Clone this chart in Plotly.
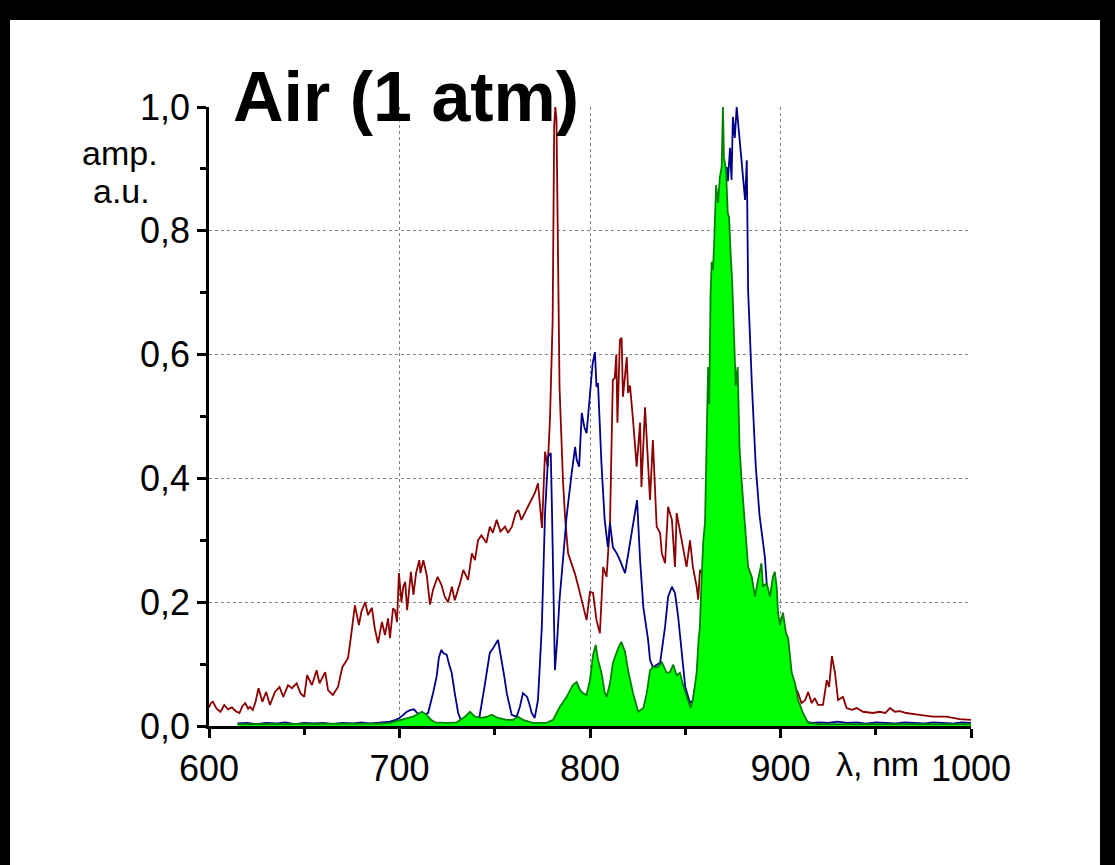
import plotly.graph_objects as go

# ---- spectra (wavelength in nm, normalised amplitude) ----
red_wl = [600, 601, 602, 604, 606, 608, 610, 612, 614, 616, 617.5, 619, 620.5, 621.5, 623, 624.5,
          626, 627, 628, 630, 632, 634.6, 637, 639, 641.5, 643.5, 646, 648, 650, 651.5, 654, 656.5,
          658, 661, 662.5, 665, 667.7, 670, 673, 674.5, 676.6, 678.7, 680, 682, 683.5, 685.5, 687,
          688.7, 690.8, 692.4, 694, 695, 696.6, 697.6, 698.7, 699.7, 701, 702, 703, 704, 706, 707.3,
          708.7, 710.4, 711, 712.5, 714.3, 716, 717.6, 720, 722, 723.8, 725.5, 727.5, 729, 731.8,
          733.5, 736, 738, 739.6, 741.2, 743, 745.6, 747.4, 749, 751, 753, 755.4, 757, 759, 761,
          762.4, 764, 767.5, 771, 772.7, 773.8, 774.8, 776.4, 777.8, 779, 780.4, 781.2, 781.8, 782.4,
          783.2, 784, 785.8, 787, 788.5, 790.4, 792, 793.9, 795.7, 797.4, 798.2, 800, 801.6, 803.4,
          805.2, 806.9, 808.7, 810.5, 811.4, 812, 813, 813.8, 814.4, 815.2, 815.7, 816.6, 817.3,
          818.2, 819.3, 820, 821, 822.6, 824.5, 826.3, 827, 828.9, 830.5, 831.5, 833, 835, 836.8,
          837.7, 839.4, 841, 843, 844.6, 845.5, 847.2, 848.9, 850.7, 852.5, 854, 856, 856.8, 857.7,
          860, 865, 870, 875, 880, 885, 890, 895, 900, 904, 907.6, 909, 911, 913, 914.5, 916.4, 918,
          919.7, 922.3, 924.3, 925.5, 927, 928.6, 930.2, 932.8, 934.7, 937.4, 940, 943.3, 948.6, 952,
          955, 957.5, 960, 962.7, 966, 973, 980, 987, 994, 1000]
red_amp = [0.030, 0.037, 0.039, 0.028, 0.023, 0.034, 0.027, 0.030, 0.024, 0.021, 0.032, 0.037, 0.028,
           0.031, 0.026, 0.040, 0.061, 0.048, 0.039, 0.055, 0.034, 0.055, 0.063, 0.047, 0.066, 0.061,
           0.069, 0.053, 0.047, 0.082, 0.066, 0.090, 0.069, 0.087, 0.058, 0.050, 0.063, 0.095, 0.110,
           0.144, 0.195, 0.163, 0.185, 0.200, 0.179, 0.191, 0.158, 0.134, 0.168, 0.147, 0.174, 0.142,
           0.190, 0.187, 0.168, 0.247, 0.200, 0.225, 0.233, 0.187, 0.249, 0.212, 0.247, 0.268, 0.247,
           0.268, 0.244, 0.196, 0.220, 0.241, 0.228, 0.209, 0.200, 0.225, 0.203, 0.231, 0.252, 0.236,
           0.279, 0.268, 0.300, 0.308, 0.296, 0.322, 0.312, 0.333, 0.314, 0.322, 0.312, 0.322, 0.344,
           0.349, 0.333, 0.355, 0.376, 0.392, 0.360, 0.320, 0.443, 0.419, 0.497, 0.656, 0.970, 1.000,
           0.980, 0.750, 0.548, 0.397, 0.333, 0.279, 0.263, 0.247, 0.225, 0.204, 0.183, 0.171, 0.217,
           0.215, 0.171, 0.150, 0.257, 0.241, 0.328, 0.441, 0.559, 0.562, 0.600, 0.490, 0.560, 0.624,
           0.627, 0.532, 0.560, 0.596, 0.538, 0.550, 0.494, 0.419, 0.490, 0.386, 0.515, 0.419, 0.365,
           0.462, 0.322, 0.312, 0.279, 0.263, 0.354, 0.333, 0.257, 0.344, 0.317, 0.284, 0.257, 0.300,
           0.257, 0.225, 0.204, 0.252, 0.240, 0.220, 0.210, 0.200, 0.190, 0.170, 0.150, 0.120, 0.100,
           0.080, 0.063, 0.055, 0.037, 0.042, 0.055, 0.037, 0.045, 0.034, 0.034, 0.074, 0.063, 0.113,
           0.086, 0.042, 0.047, 0.029, 0.026, 0.029, 0.023, 0.021, 0.023, 0.021, 0.029, 0.023, 0.024,
           0.021, 0.018, 0.015, 0.015, 0.011, 0.010]

blue_wl = [615, 620, 625, 630, 635, 640, 645, 650, 655, 660, 665, 670, 675, 680, 685, 690, 695, 698,
           700, 702, 703.8, 706, 707.6, 709, 710.8, 713, 715, 717.6, 719.5, 720.7, 722, 723, 724.8,
           726, 727.4, 729, 730.8, 732.6, 735, 738, 740, 742, 744.6, 746, 747.4, 749, 750, 751.7,
           752.5, 753.6, 755, 756.3, 757.6, 758.9, 761.5, 763.2, 764.8, 766, 767, 768.2, 769.4, 771,
           772.7, 773.7, 774.7, 775.6, 776.4, 778, 779.4, 780, 781, 781.6, 782.8, 784, 785.8, 787.7,
           790.4, 792.2, 793, 794.3, 795.7, 797, 798.2, 800, 801.4, 802.6, 803.4, 804.2, 806, 807.7,
           809.4, 810.5, 812, 814, 815.7, 818.4, 820, 822, 823.9, 824.7, 826.3, 828, 830.5, 831.5, 833,
           835, 836.8, 839.4, 841, 843, 844.6, 846.3, 848.2, 850, 852.5, 854, 856, 858, 861, 864, 867,
           870, 871.8, 872.4, 873.5, 874.3, 875, 876, 877, 877.7, 878.7, 879.6, 880.4, 881.4, 882.3,
           882.5, 883, 885, 887, 889, 890.8, 891.8, 893, 896, 900, 904, 908, 912, 917, 920, 925, 930,
           935, 940, 945, 950, 955, 960, 965, 970, 975, 980, 985, 990, 995, 1000]
blue_amp = [0.004, 0.005, 0.003, 0.005, 0.004, 0.006, 0.003, 0.005, 0.004, 0.005, 0.003, 0.005, 0.004,
            0.006, 0.004, 0.005, 0.007, 0.010, 0.013, 0.018, 0.023, 0.026, 0.027, 0.022, 0.018, 0.019,
            0.021, 0.053, 0.080, 0.111, 0.123, 0.118, 0.115, 0.100, 0.086, 0.053, 0.021, 0.006, 0.005,
            0.006, 0.010, 0.015, 0.063, 0.095, 0.118, 0.125, 0.131, 0.139, 0.125, 0.107, 0.080, 0.053,
            0.035, 0.018, 0.015, 0.031, 0.053, 0.050, 0.047, 0.035, 0.021, 0.013, 0.042, 0.100, 0.160,
            0.257, 0.344, 0.435, 0.441, 0.354, 0.176, 0.090, 0.140, 0.204, 0.268, 0.338, 0.409, 0.451,
            0.430, 0.419, 0.506, 0.483, 0.473, 0.543, 0.586, 0.604, 0.548, 0.554, 0.425, 0.333, 0.289,
            0.328, 0.289, 0.279, 0.268, 0.247, 0.279, 0.312, 0.354, 0.365, 0.268, 0.192, 0.139, 0.107,
            0.095, 0.098, 0.102, 0.160, 0.209, 0.225, 0.215, 0.176, 0.123, 0.063, 0.037, 0.042, 0.080,
            0.160, 0.350, 0.550, 0.720, 0.850, 0.903, 0.880, 0.934, 0.882, 0.984, 0.950, 1.000, 0.974,
            0.947, 0.909, 0.877, 0.850, 0.914, 0.838, 0.704, 0.550, 0.420, 0.340, 0.300, 0.273, 0.220,
            0.150, 0.090, 0.040, 0.015, 0.007, 0.005, 0.006, 0.005, 0.007, 0.005, 0.006, 0.004, 0.006,
            0.005, 0.004, 0.006, 0.005, 0.004, 0.006, 0.005, 0.004, 0.006, 0.005]

green_wl = [615, 630, 650, 670, 690, 695, 700, 703, 707, 710, 711.8, 714.3, 716.5, 718.6, 724.8, 730,
            732, 734.4, 737, 739.6, 743, 746, 748.4, 751.7, 756.3, 759.6, 762.2, 764.8, 770, 777.2,
            780.6, 784.2, 787.7, 791, 793, 794.8, 796.4, 798.2, 800, 801.6, 803, 804.2, 806, 807.7,
            808.7, 810.5, 812, 814.8, 816.4, 818.4, 820, 822.6, 825.3, 828, 829.8, 831.5, 833, 835.7,
            837.7, 840.3, 842, 843.7, 845.5, 847.2, 848.9, 850.7, 852.8, 854, 856, 857, 857.7, 858.6,
            859.5, 860.4, 861.2, 862, 862.6, 863.3, 863.9, 864.6, 865.4, 866.2, 867.2, 868.2, 869.1,
            869.8, 870.3, 871.4, 872.3, 873, 873.9, 874.6, 875.5, 876.5, 877.5, 878.5, 879.5, 880.5,
            881.3, 882.2, 883, 884.9, 886.6, 888.2, 890, 890.8, 892.7, 894.5, 896, 897, 898, 898.7,
            899.7, 901.3, 902.9, 904, 905.9, 907.6, 909.2, 911.8, 914.5, 920, 940, 960, 980, 1000]
green_amp = [0.003, 0.003, 0.003, 0.003, 0.004, 0.005, 0.009, 0.012, 0.015, 0.020, 0.023, 0.018,
             0.010, 0.006, 0.005, 0.006, 0.010, 0.015, 0.023, 0.015, 0.013, 0.015, 0.018, 0.013,
             0.010, 0.010, 0.015, 0.010, 0.005, 0.005, 0.010, 0.031, 0.047, 0.066, 0.071, 0.058,
             0.053, 0.050, 0.074, 0.115, 0.131, 0.107, 0.086, 0.055, 0.047, 0.069, 0.102, 0.126,
             0.136, 0.120, 0.090, 0.053, 0.023, 0.029, 0.053, 0.090, 0.095, 0.095, 0.103, 0.086,
             0.087, 0.099, 0.082, 0.086, 0.066, 0.047, 0.029, 0.042, 0.086, 0.140, 0.160, 0.241,
             0.300, 0.330, 0.450, 0.580, 0.520, 0.700, 0.750, 0.737, 0.800, 0.874, 0.845, 0.887,
             0.903, 1.000, 0.919, 0.898, 0.829, 0.822, 0.758, 0.720, 0.640, 0.550, 0.580, 0.450,
             0.400, 0.360, 0.330, 0.300, 0.257, 0.241, 0.209, 0.236, 0.263, 0.225, 0.231, 0.209,
             0.241, 0.249, 0.225, 0.183, 0.163, 0.183, 0.150, 0.142, 0.086, 0.069, 0.042, 0.021,
             0.005, 0.003, 0.003, 0.003, 0.003, 0.003]

x_ticks = [600, 700, 800, 900, 1000]
y_ticks = [0.0, 0.2, 0.4, 0.6, 0.8, 1.0]
y_tick_text = ["0,0", "0,2", "0,4", "0,6", "0,8", "1,0"]

FONT = "Liberation Sans, Arial, sans-serif"

fig = go.Figure()
fig.add_trace(go.Scatter(x=red_wl, y=red_amp, mode="lines",
                         line=dict(color="#8B0000", width=1.8), showlegend=False))
fig.add_trace(go.Scatter(x=blue_wl, y=blue_amp, mode="lines",
                         line=dict(color="#00008B", width=1.8), showlegend=False))
fig.add_trace(go.Scatter(x=green_wl, y=green_amp, mode="lines", fill="tozeroy",
                         fillcolor="#00FF00",
                         line=dict(color="#008000", width=1.8), showlegend=False))

fig.update_xaxes(range=[600, 1000], tickvals=x_ticks, ticktext=[str(v) for v in x_ticks],
                 showline=True, linecolor="black", linewidth=2.5, mirror=False,
                 ticks="outside", ticklen=9, tickwidth=2.5, tickcolor="black",
                 minor=dict(dtick=50, ticks="outside", ticklen=6, tickwidth=2.5,
                            tickcolor="black", showgrid=False),
                 showgrid=True, gridcolor="#808080", griddash="dot", gridwidth=1,
                 tickfont=dict(family=FONT, size=36, color="black"),
                 zeroline=False)
fig.update_yaxes(range=[0, 1.0], tickvals=y_ticks, ticktext=y_tick_text,
                 showline=True, linecolor="black", linewidth=2.5,
                 ticks="outside", ticklen=9, tickwidth=2.5, tickcolor="black",
                 minor=dict(dtick=0.1, ticks="outside", ticklen=6, tickwidth=2.5,
                            tickcolor="black", showgrid=False),
                 showgrid=True, gridcolor="#808080", griddash="dot", gridwidth=1,
                 tickfont=dict(family=FONT, size=36, color="black"),
                 zeroline=False)

# frame strips around the canvas (paper coords relative to the plot area)
W, H = 1115, 865
L, R, T, B = 209, 144, 107, 139
pw, ph = W - L - R, H - T - B


def px(xp):
    return (xp - L) / pw


def py(yp):
    return (H - B - yp) / ph


frame = [
    (0, 0, W, 20),
    (0, 0, 10, H),
    (1100, 0, W, H),
]
shapes = [dict(type="rect", xref="paper", yref="paper",
               x0=px(a), x1=px(c), y0=py(d), y1=py(b),
               fillcolor="black", line=dict(width=0), layer="above")
          for a, b, c, d in frame]

annotations = [
    dict(text="<b>Air (1 atm)</b>", x=px(406), y=py(97), xref="paper", yref="paper",
         showarrow=False, xanchor="center", yanchor="middle",
         font=dict(family=FONT, size=70, color="black")),
    dict(text="amp.", x=px(120), y=py(153), xref="paper", yref="paper",
         showarrow=False, xanchor="center", yanchor="middle",
         font=dict(family=FONT, size=34, color="black")),
    dict(text="a.u.", x=px(121), y=py(191), xref="paper", yref="paper",
         showarrow=False, xanchor="center", yanchor="middle",
         font=dict(family=FONT, size=34, color="black")),
    dict(text="λ, nm", x=px(877), y=py(764), xref="paper", yref="paper",
         showarrow=False, xanchor="center", yanchor="middle",
         font=dict(family=FONT, size=34, color="black")),
]

fig.update_layout(width=W, height=H, margin=dict(l=L, r=R, t=T, b=B),
                  paper_bgcolor="white", plot_bgcolor="white",
                  shapes=shapes, annotations=annotations)

fig.write_html("out.html")
